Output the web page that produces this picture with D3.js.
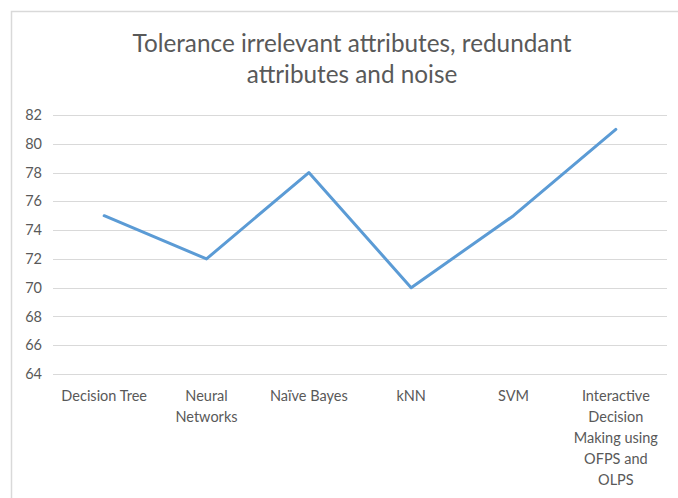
<!DOCTYPE html>
<html><head><meta charset="utf-8">
<script src="https://cdn.jsdelivr.net/npm/d3@7"></script>
<style>body{margin:0;background:#fff;} svg{display:block;}</style>
</head><body>
<script>
const categories = ["Decision Tree", "Neural Networks", "Naïve Bayes", "kNN", "SVM", "Interactive Decision Making using OFPS and OLPS"];
const values = [75, 72, 78, 70, 75, 81];
const yTicks = [64, 66, 68, 70, 72, 74, 76, 78, 80, 82];
const title = ["Tolerance irrelevant attributes, redundant", "attributes and noise"];

(function() {
const W = 678, H = 498;
const svg = d3.select("body").append("svg").attr("width", W).attr("height", H);
const font = "Lato, 'Open Sans', sans-serif";
const textColor = "#595959";

svg.append("rect").attr("x", 11.5).attr("y", 11.5).attr("width", 720).attr("height", 520)
  .attr("fill", "#fff").attr("stroke", "#d9d9d9").attr("stroke-width", 1.5);

const mLeft = 53, mRight = 667, mTop = 115, mBottom = 374;
const x = d3.scaleBand().domain(categories).range([mLeft, mRight]);
const y = d3.scaleLinear().domain([64, 82]).range([mBottom, mTop]);

// title
svg.append("text").attr("text-anchor", "middle")
  .attr("font-family", font).attr("font-size", 24.3).attr("fill", textColor)
  .selectAll("tspan").data(title).join("tspan")
  .attr("x", 352).attr("y", (d, i) => 52 + i * 31).text(d => d);

// grid
svg.append("g").selectAll("line").data(yTicks).join("line")
  .attr("x1", mLeft).attr("x2", mRight)
  .attr("y1", d => Math.round(y(d)) + 0.5).attr("y2", d => Math.round(y(d)) + 0.5)
  .attr("stroke", "#d9d9d9").attr("stroke-width", 1);

// y axis
const yAxis = svg.append("g").attr("transform", `translate(${mLeft},0)`)
  .call(d3.axisLeft(y).tickValues(yTicks).tickSize(0).tickPadding(11));
yAxis.select(".domain").remove();
yAxis.selectAll("text").attr("font-family", font).attr("font-size", 14.5).attr("fill", textColor);

// x axis
const xAxis = svg.append("g").attr("transform", `translate(0,${mBottom})`)
  .call(d3.axisBottom(x).tickSize(0).tickPadding(0));
xAxis.select(".domain").remove();
xAxis.selectAll("text").attr("font-family", font).attr("font-size", 14.5).attr("fill", textColor)
  .attr("dy", null).attr("y", 0)
  .each(function(d) {
    const t = d3.select(this);
    const words = d.split(" ");
    t.text(null);
    let lines = [], cur = [];
    const tmp = t.append("tspan");
    words.forEach(w => {
      const trial = cur.concat([w]).join(" ");
      tmp.text(trial);
      if (tmp.node().getComputedTextLength() > 96 && cur.length) { lines.push(cur.join(" ")); cur = [w]; }
      else cur.push(w);
    });
    lines.push(cur.join(" "));
    tmp.remove();
    lines.forEach((l, i) => t.append("tspan").attr("x", 0).attr("y", 27 + i * 21).text(l));
  });

// line
const line = d3.line().x((d, i) => x(categories[i]) + x.bandwidth() / 2).y(d => y(d));
svg.append("path").datum(values).attr("d", line)
  .attr("fill", "none").attr("stroke", "#5b9bd5").attr("stroke-width", 3)
  .attr("stroke-linejoin", "round").attr("stroke-linecap", "round");
})();
</script>
</body></html>
